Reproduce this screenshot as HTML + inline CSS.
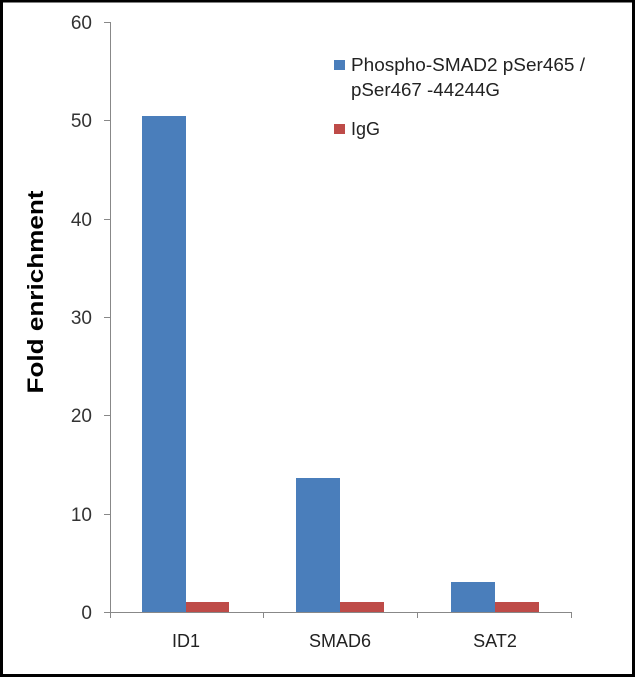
<!DOCTYPE html>
<html><head><style>body{margin:0;background:#fff}svg{display:block}</style></head><body>
<svg width="635" height="677" xmlns="http://www.w3.org/2000/svg" font-family="Liberation Sans, sans-serif">
<rect x="1.5" y="1" width="632" height="674.5" fill="#fff" stroke="#000" stroke-width="3"/>
<g stroke="#888" stroke-width="1">
<line x1="110.5" y1="22" x2="110.5" y2="612"/>
<line x1="104" y1="22.5" x2="110" y2="22.5"/>
<line x1="104" y1="120.5" x2="110" y2="120.5"/>
<line x1="104" y1="219.5" x2="110" y2="219.5"/>
<line x1="104" y1="317.5" x2="110" y2="317.5"/>
<line x1="104" y1="415.5" x2="110" y2="415.5"/>
<line x1="104" y1="514.5" x2="110" y2="514.5"/>
<line x1="104" y1="612.5" x2="572" y2="612.5"/>
<line x1="263.5" y1="612" x2="263.5" y2="618"/>
<line x1="417.5" y1="612" x2="417.5" y2="618"/>
<line x1="571.5" y1="612" x2="571.5" y2="618"/>
<line x1="110.5" y1="612" x2="110.5" y2="618"/>
</g>
<g font-size="19" fill="#333" text-anchor="end">
<text x="92" y="29">60</text><text x="92" y="127">50</text><text x="92" y="226">40</text>
<text x="92" y="324">30</text><text x="92" y="422">20</text><text x="92" y="521">10</text><text x="92" y="619">0</text>
</g>
<g fill="#4a7ebb">
<rect x="142" y="116" width="44" height="496"/>
<rect x="296" y="478" width="44" height="134"/>
<rect x="451" y="582" width="44" height="30"/>
</g>
<g fill="#be4b48">
<rect x="186" y="602" width="43" height="10"/>
<rect x="340" y="602" width="44" height="10"/>
<rect x="495" y="602" width="44" height="10"/>
</g>
<g font-size="18" fill="#222" text-anchor="middle">
<text x="186" y="647">ID1</text><text x="340" y="647">SMAD6</text><text x="495" y="647">SAT2</text>
</g>
<text transform="translate(43,292) rotate(-90)" text-anchor="middle" font-size="22" font-weight="bold" textLength="203" lengthAdjust="spacingAndGlyphs">Fold enrichment</text>
<rect x="334" y="60" width="11" height="10" fill="#4a7ebb"/>
<rect x="334" y="124" width="11" height="10" fill="#be4b48"/>
<g font-size="18" fill="#222">
<text x="351" y="71" textLength="234" lengthAdjust="spacingAndGlyphs">Phospho-SMAD2 pSer465 /</text>
<text x="351" y="96" textLength="149" lengthAdjust="spacingAndGlyphs">pSer467 -44244G</text>
<text x="351" y="135">IgG</text>
</g>
</svg>
</body></html>
